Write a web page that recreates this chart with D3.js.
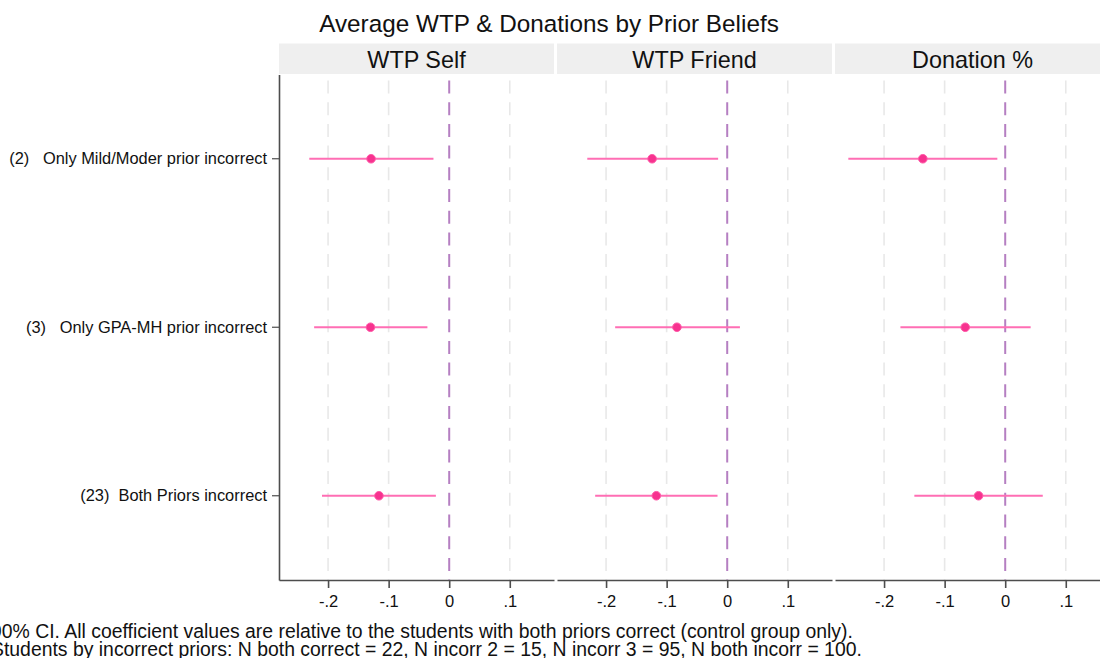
<!DOCTYPE html>
<html>
<head>
<meta charset="utf-8">
<script src="https://cdn.jsdelivr.net/npm/d3@7"></script>
<style>
  html, body { margin: 0; padding: 0; background: #fff; }
  svg { display: block; font-family: "Liberation Sans", Arial, sans-serif; }
  text { white-space: pre; }
</style>
</head>
<body>
<svg id="chart" width="1100" height="658"></svg>
<script>
// Row labels (top to bottom)
const categories = [
  "(2)   Only Mild/Moder prior incorrect",
  "(3)   Only GPA-MH prior incorrect",
  "(23)  Both Priors incorrect"
];
// Panel titles
const panels = ["WTP Self", "WTP Friend", "Donation %"];

// Point estimates per panel (same order as categories)
const estWtpSelf   = [-0.129, -0.130, -0.116];
const estWtpFriend = [-0.124, -0.083, -0.117];
const estDonation  = [-0.136, -0.066, -0.044];

// 90% CI bounds per panel
const loWtpSelf   = [-0.231, -0.223, -0.210];
const hiWtpSelf   = [-0.026, -0.036, -0.022];
const loWtpFriend = [-0.231, -0.185, -0.218];
const hiWtpFriend = [-0.015,  0.021, -0.016];
const loDonation  = [-0.259, -0.173, -0.150];
const hiDonation  = [-0.013,  0.042,  0.062];

// X axis ticks
const xTicks = [-0.2, -0.1, 0, 0.1];
const xTickLabels = ["-.2", "-.1", "0", ".1"];

const title = "Average WTP & Donations by Prior Beliefs";
const notes = [
  "90% CI. All coefficient values are relative to the students with both priors correct (control group only).",
  "Students by incorrect priors: N both correct = 22, N incorr 2 = 15, N incorr 3 = 95, N both incorr = 100."
];

const series = [
  { est: estWtpSelf,   lo: loWtpSelf,   hi: hiWtpSelf },
  { est: estWtpFriend, lo: loWtpFriend, hi: hiWtpFriend },
  { est: estDonation,  lo: loDonation,  hi: hiDonation }
];

const svg = d3.select("#chart");

// Layout
const panelLeft0 = 279, panelStep = 278, panelW = 275;
const stripTop = 43.5, stripH = 30.5;
const plotTop = 74.5, plotBottom = 580;

const x = d3.scaleLinear().domain([-0.281, 0.173]).range([0, panelW]);
const y = d3.scaleBand().domain(categories).range([plotTop, plotBottom]);
const yc = d => y(d) + y.bandwidth() / 2;

const ciColor = "#ff6eb4";
const ptColor = "#f7328f";
const zeroColor = "#b57fc2";
const gridColor = "#e8e8e8";
const axisColor = "#4d4d4d";

// Title
svg.append("text")
  .attr("x", 549).attr("y", 32)
  .attr("text-anchor", "middle")
  .attr("font-size", 24.3)
  .attr("fill", "#111")
  .text(title);

panels.forEach((name, i) => {
  const g = svg.append("g").attr("transform", `translate(${panelLeft0 + i * panelStep},0)`);
  const s = series[i];

  // Strip header
  g.append("rect")
    .attr("x", 0).attr("y", stripTop)
    .attr("width", panelW).attr("height", stripH)
    .attr("fill", "#efefef");
  g.append("text")
    .attr("x", panelW / 2).attr("y", stripTop + 24)
    .attr("text-anchor", "middle")
    .attr("font-size", 23.4)
    .attr("fill", "#111")
    .text(name);

  // Gridlines
  g.selectAll("line.grid")
    .data(xTicks.filter(t => t !== 0))
    .join("line")
    .attr("class", "grid")
    .attr("x1", d => x(d)).attr("x2", d => x(d))
    .attr("y1", plotTop).attr("y2", plotBottom)
    .attr("stroke", gridColor)
    .attr("stroke-width", 1.6)
    .attr("stroke-dasharray", "13,8.7")
    .attr("stroke-dashoffset", -6);

  // Zero reference line
  g.append("line")
    .attr("x1", x(0)).attr("x2", x(0))
    .attr("y1", plotTop).attr("y2", plotBottom)
    .attr("stroke", zeroColor)
    .attr("stroke-width", 2)
    .attr("stroke-dasharray", "13,8.7")
    .attr("stroke-dashoffset", -6);

  // Confidence intervals
  g.selectAll("line.ci")
    .data(categories)
    .join("line")
    .attr("class", "ci")
    .attr("x1", (d, k) => x(s.lo[k])).attr("x2", (d, k) => x(s.hi[k]))
    .attr("y1", d => yc(d)).attr("y2", d => yc(d))
    .attr("stroke", ciColor)
    .attr("stroke-width", 1.8);

  // Point estimates
  g.selectAll("circle.pt")
    .data(categories)
    .join("circle")
    .attr("class", "pt")
    .attr("cx", (d, k) => x(s.est[k]))
    .attr("cy", d => yc(d))
    .attr("r", 4.3)
    .attr("fill", ptColor)
    .attr("stroke", "#ff5aa8")
    .attr("stroke-width", 1);

  // X axis
  const xa = g.append("g")
    .attr("transform", `translate(0,${plotBottom})`)
    .call(d3.axisBottom(x).tickValues(xTicks)
      .tickFormat((d, k) => xTickLabels[k])
      .tickSize(8).tickSizeOuter(0).tickPadding(7));
  xa.select(".domain").attr("stroke", axisColor).attr("stroke-width", 1.6);
  xa.selectAll(".tick line").attr("stroke", axisColor).attr("stroke-width", 1.6);
  xa.selectAll(".tick text")
    .attr("font-size", 16.5)
    .attr("fill", "#111")
    .attr("font-family", "Liberation Sans, Arial, sans-serif");

  // Y axis only on first panel
  if (i === 0) {
    const ya = g.append("g")
      .call(d3.axisLeft(y).tickSize(7).tickSizeOuter(0).tickPadding(5));
    ya.select(".domain").attr("stroke", axisColor).attr("stroke-width", 1.6);
    ya.selectAll(".tick line").attr("stroke", axisColor).attr("stroke-width", 1.2);
    ya.selectAll(".tick text")
      .attr("font-size", 16.4)
      .attr("fill", "#111")
      .attr("font-family", "Liberation Sans, Arial, sans-serif")
      .attr("xml:space", "preserve");
  }
});

// Footnotes
svg.selectAll("text.note")
  .data(notes)
  .join("text")
  .attr("class", "note")
  .attr("x", -9)
  .attr("y", (d, k) => 637.5 + k * 18)
  .attr("font-size", 19.4)
  .attr("fill", "#111")
  .text(d => d);
</script>
</body>
</html>
